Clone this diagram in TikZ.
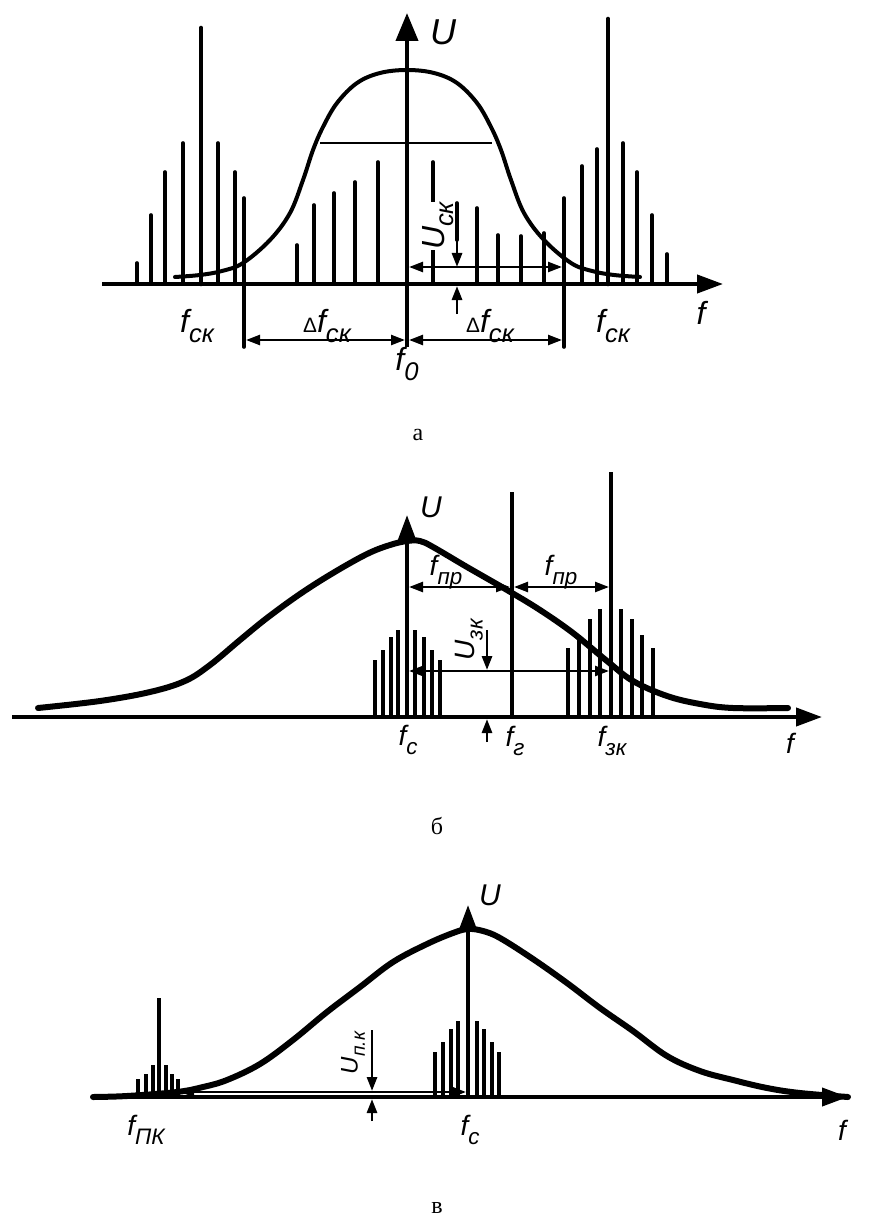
\documentclass[tikz,border=0pt]{standalone}
\usepackage{fontspec}
\usepackage{graphicx}
\setmainfont{Liberation Sans}
\newfontfamily\capfont{Liberation Serif}
\usetikzlibrary{arrows.meta}
\newcommand\sbx[1]{\raisebox{-0.3em}{\scalebox{0.8}{#1}}}
\newcommand\dlt{{\upshape\scalebox{0.65}{Δ}}}
\begin{document}
\begin{tikzpicture}[x=0.5pt,y=-0.5pt,
  axis/.style={line width=2pt,-{Triangle[length=13pt,width=9pt]}},
  spec/.style={line width=1.8pt,line cap=round},
  tall/.style={line width=2.3pt,line cap=round},
  thinspec/.style={line width=1.6pt},
  dim/.style={line width=1.2pt,{Triangle[length=7pt,width=5pt]}-{Triangle[length=7pt,width=5pt]}},
  single/.style={line width=1.4pt,-{Triangle[length=7pt,width=5pt]}},
  curve/.style={line width=2pt,line join=round,line cap=round},
  bigcurve/.style={line width=3pt,line join=round,line cap=round},
  lbl/.style={font=\fontsize{14}{16}\selectfont\itshape,inner sep=0pt},
  albl/.style={font=\fontsize{16}{18}\selectfont\itshape,inner sep=0pt},
  ulbl/.style={font=\fontsize{18}{20}\selectfont\itshape,inner sep=0pt},
  captext/.style={font=\capfont\fontsize{12}{14}\selectfont,inner sep=0pt}]
\useasboundingbox (0,0) rectangle (876,1225);
\fill[white] (0,0) rectangle (876,1225);

% ================= panel a =================
\foreach \x/\t in {137/263,151/215,165/172,183/143,218/143,235/172,
                   297/245,314/205,334/193,355/182,378/162,
                   433/162,477/208,498/235,521/236,544/233,
                   582/166,597/149,623/143,637/172,652/215,667/254}
  \draw[spec] (\x,284) -- (\x,\t);
\draw[tall] (201,284) -- (201,28);
\draw[tall] (608,284) -- (608,19);
\coordinate (bl1) at (244,198); \coordinate (bl2) at (244,347);
\coordinate (br1) at (564,198); \coordinate (br2) at (564,347);
\draw[spec] (bl1) -- (bl2);
\draw[spec] (br1) -- (br2);
\draw[curve] plot[smooth,tension=0.6] coordinates {(175,277)(200,275)(222,271)(243,263)(270,240)(290,213)(303,180)(313,150)(323,127)(337,103)(357,83)(380,73)(407,70)(434,73)(457,83)(477,103)(491,127)(501,150)(511,180)(524,213)(544,240)(571,263)(592,271)(614,275)(640,277)};
\coordinate (hl1) at (320,143); \coordinate (hl2) at (492,143);
\draw[line width=1.3pt] (hl1) -- (hl2);
\coordinate (ax0) at (102,284); \coordinate (ax1) at (723,284);
\draw[axis] (ax0) -- (ax1);
\coordinate (ay0) at (407,347); \coordinate (ay1) at (407,13);
\draw[axis,-{Triangle[length=14pt,width=11pt]}] (ay0) -- (ay1);
% U_ck
\node[albl,fill=white,rotate=90] (uck) at (438,226) {U\sbx{ск}};
\coordinate (ua1) at (457,203); \coordinate (ua2) at (457,267);
\coordinate (ua3) at (457,314); \coordinate (ua4) at (457,286);
\draw[spec] (ua1) -- (457,240);
\draw[single] (ua1) -- (ua2);
\draw[single] (ua3) -- (ua4);
\coordinate (ha1) at (409,267); \coordinate (ha2) at (562,267);
\draw[dim] (ha1) -- (ha2);
% delta f
\coordinate (d1) at (246,340); \coordinate (d2) at (405,340);
\coordinate (d3) at (409,340); \coordinate (d4) at (562,340);
\draw[dim] (d1) -- (d2);
\draw[dim] (d3) -- (d4);
\node[ulbl] (Ua) at (443,32) {U};
\node[albl] (fa) at (701,313) {f};
\node[albl] (fck1) at (197,326) {f\sbx{ск}};
\node[albl] (fck2) at (613,326) {f\sbx{ск}};
\node[albl] (dfa) at (327,326) {\dlt f\sbx{ск}};
\node[albl] (dfb) at (490,326) {\dlt f\sbx{ск}};
\node[albl] (f0) at (407,364) {f\sbx{0}};
\node[captext] (capa) at (418,435) {а};

% ================= panel b =================
\foreach \x/\t in {375/660,383/650,391/637,398/630,415/630,424/637,432/650,440/660,
                   568/648,579/635,590/619,600/609,621/609,632/619,642/635,653/648}
  \draw[thinspec] (\x,717) -- (\x,\t);
\coordinate (fg1) at (512,717); \coordinate (fg2) at (512,492);
\draw[line width=2pt] (fg1) -- (fg2);
\coordinate (fz1) at (611,717); \coordinate (fz2) at (611,472);
\draw[line width=2pt] (fz1) -- (fz2);
\draw[bigcurve] plot[smooth,tension=0.6] coordinates {(38,708)(100,701)(150,692)(185,681)(210,665)(240,640)(267,618)(300,594)(333,573)(367,554)(390,545)(407,541)(420,541)(433,547)(467,567)(507,590)(540,610)(573,633)(607,661)(633,681)(667,696)(700,704)(733,708)(788,708)};
\coordinate (bx0) at (12,717); \coordinate (bx1) at (822,717);
\draw[axis] (bx0) -- (bx1);
\coordinate (by0) at (407,717); \coordinate (by1) at (407,515);
\draw[axis] (by0) -- (by1);
\coordinate (p1) at (409,587); \coordinate (p2) at (510,587);
\coordinate (p3) at (514,587); \coordinate (p4) at (609,587);
\draw[dim] (p1) -- (p2);
\draw[dim] (p3) -- (p4);
\coordinate (z1) at (409,671); \coordinate (z2) at (609,671);
\draw[dim] (z1) -- (z2);
\coordinate (zd1) at (487,630); \coordinate (zd2) at (487,670);
\coordinate (zu1) at (487,742); \coordinate (zu2) at (487,719);
\draw[single] (zd1) -- (zd2);
\draw[single] (zu1) -- (zu2);
\node[lbl,rotate=90] (uzk) at (469,640) {U\sbx{зк}};
\node[lbl,font=\fontsize{15}{17}\selectfont\itshape] (Ub) at (431,507) {U};
\node[lbl] (fpr1) at (446,572) {f\sbx{пр}};
\node[lbl] (fpr2) at (561,572) {f\sbx{пр}};
\node[lbl] (fcb) at (408,740) {f\sbx{с}};
\node[lbl] (fgb) at (515,741) {f\sbx{г}};
\node[lbl] (fzk) at (612,741) {f\sbx{зк}};
\node[lbl] (fb) at (790,743) {f};
\node[captext] (capb) at (437,826) {б};

% ================= panel c =================
\foreach \x/\t in {435/1052,443/1042,451/1029,458/1021,477/1021,484/1029,492/1042,499/1052,
                   138/1079,146/1074,153/1065,166/1065,172/1074,178/1079}
  \draw[thinspec] (\x,1097) -- (\x,\t);
\coordinate (pk1) at (159,1097); \coordinate (pk2) at (159,998);
\draw[thinspec] (pk1) -- (pk2);
\draw[bigcurve] plot[smooth,tension=0.6] coordinates {(93,1097)(127,1096)(177,1092)(203,1087)(227,1080)(260,1064)(293,1040)(327,1012)(360,987)(393,962)(427,944)(453,933)(468,929)(483,931)(500,938)(533,959)(567,983)(600,1008)(633,1031)(667,1056)(700,1071)(733,1080)(767,1088)(800,1093)(848,1097)};
\coordinate (cx0) at (95,1097); \coordinate (cx1) at (848,1097);
\draw[axis] (cx0) -- (cx1);
\coordinate (cy0) at (468,1097); \coordinate (cy1) at (468,905);
\draw[axis] (cy0) -- (cy1);
\coordinate (q1) at (180,1092); \coordinate (q2) at (466,1092);
\draw[dim] (q1) -- (q2);
\coordinate (qd1) at (372,1030); \coordinate (qd2) at (372,1091);
\coordinate (qu1) at (372,1121); \coordinate (qu2) at (372,1099);
\draw[single] (qd1) -- (qd2);
\draw[single] (qu1) -- (qu2);
\node[lbl,rotate=90,font=\fontsize{12}{14}\selectfont\itshape] (upk) at (353,1053) {U\sbx{п.к}};
\node[lbl,font=\fontsize{15}{17}\selectfont\itshape] (Uc) at (490,895) {U};
\node[lbl] (fpk) at (146,1130) {f\sbx{ПК}};
\node[lbl] (fcc) at (470,1130) {f\sbx{с}};
\node[lbl] (fc) at (842,1130) {f};
\node[captext] (capc) at (437,1208) {в};
\end{tikzpicture}
\end{document}
